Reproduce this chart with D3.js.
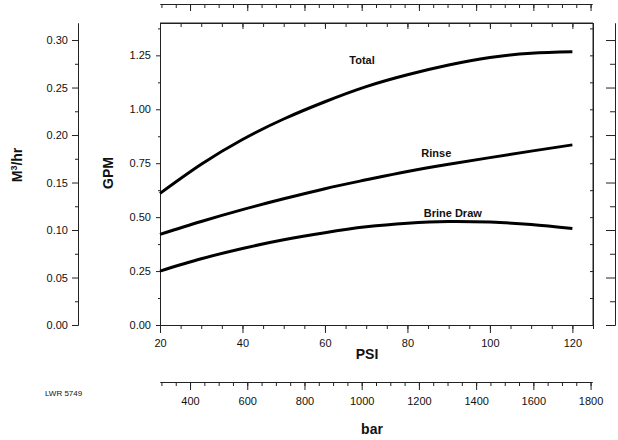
<!DOCTYPE html>
<html>
<head>
<meta charset="utf-8">
<script src="https://cdn.jsdelivr.net/npm/d3@7"></script>
<style>
  body { margin: 0; background: #fff; }
  text { font-family: "Liberation Sans", Arial, sans-serif; fill: #111; }
  .domain, .tick line { stroke: #222; }
</style>
</head>
<body>
<div id="viz"></div>
<script>
var width = 618, height = 440;

// data
var psi = [20, 30, 40, 50, 60, 70, 80, 90, 100, 110, 120];
var total = [0.61, 0.745, 0.86, 0.955, 1.035, 1.105, 1.16, 1.205, 1.24, 1.26, 1.267];
var rinse = [0.42, 0.48, 0.535, 0.585, 0.632, 0.673, 0.712, 0.745, 0.776, 0.806, 0.835];
var brine = [0.25, 0.307, 0.355, 0.395, 0.428, 0.455, 0.472, 0.48, 0.477, 0.466, 0.447];
var seriesNames = ["Total", "Rinse", "Brine Draw"];
var psiTicks = [20, 40, 60, 80, 100, 120];
var gpmTicks = [0, 0.25, 0.5, 0.75, 1.0, 1.25];
var m3Ticks = [0, 0.05, 0.1, 0.15, 0.2, 0.25, 0.3];
var barTicks = [400, 600, 800, 1000, 1200, 1400, 1600, 1800];

// plot box edges (window.top is reserved, so use other names)
var boxL = 160, boxR = 593, boxT = 23, boxB = 325;

var x = d3.scaleLinear().domain([20, 125]).range([boxL, boxR]);
var y = d3.scaleLinear().domain([0, 1.4]).range([boxB, boxT]);
var m3 = d3.scaleLinear().domain([0, 1.4 * 0.2271]).range([boxB, boxT]);
var bar = d3.scaleLinear().domain([295, 1805]).range([boxL, 592]);

var svg = d3.select("#viz").append("svg")
    .attr("width", width)
    .attr("height", height);

function clean(g) {
    g.selectAll("text").attr("font-size", 11);
    return g;
}

// plot box: bottom PSI axis, minor ticks first
svg.append("g")
    .attr("transform", "translate(0," + boxB + ")")
    .call(d3.axisBottom(x).tickValues(d3.range(20, 125.1, 5)).tickSize(4).tickFormat(""));
svg.append("g")
    .attr("transform", "translate(0," + boxB + ")")
    .call(d3.axisBottom(x).tickValues(psiTicks).tickSize(8).tickPadding(6).tickSizeOuter(0))
    .call(clean);

// top edge of box
svg.append("g")
    .attr("transform", "translate(0," + boxT + ")")
    .call(d3.axisBottom(x).tickValues(d3.range(25, 121, 5)).tickSize(4).tickFormat("").tickSizeOuter(0));
svg.append("g")
    .attr("transform", "translate(0," + boxT + ")")
    .call(d3.axisBottom(x).tickValues(psiTicks).tickSize(6).tickFormat("").tickSizeOuter(0));

// GPM left axis
svg.append("g")
    .attr("transform", "translate(" + boxL + ",0)")
    .call(d3.axisLeft(y).tickValues(d3.range(0.125, 1.4, 0.25)).tickSize(2).tickFormat("").tickSizeOuter(0));
svg.append("g")
    .attr("transform", "translate(" + boxL + ",0)")
    .call(d3.axisLeft(y).tickValues(gpmTicks).tickSize(4).tickPadding(5).tickFormat(d3.format(".2f")).tickSizeOuter(0))
    .call(clean);

// right edge of box
svg.append("g")
    .attr("transform", "translate(" + boxR + ",0)")
    .call(d3.axisLeft(y).tickValues(d3.range(0.125, 1.4, 0.125)).tickSize(3).tickFormat("").tickSizeOuter(0));

// M3/hr axis on the left
svg.append("g")
    .attr("transform", "translate(78,0)")
    .call(d3.axisLeft(m3).tickValues(d3.range(0.025, 0.31, 0.05)).tickSize(3).tickFormat("").tickSizeOuter(0));
svg.append("g")
    .attr("transform", "translate(78,0)")
    .call(d3.axisLeft(m3).tickValues(m3Ticks).tickSize(6).tickPadding(4).tickFormat(d3.format(".2f")).tickSizeOuter(0))
    .call(clean);

// M3/hr mirror on the right
svg.append("g")
    .attr("transform", "translate(615,0)")
    .call(d3.axisLeft(m3).tickValues(d3.range(0.025, 0.31, 0.05)).tickSize(5).tickFormat("").tickSizeOuter(0));
svg.append("g")
    .attr("transform", "translate(615,0)")
    .call(d3.axisLeft(m3).tickValues(m3Ticks).tickSize(9).tickFormat("").tickSizeOuter(0));

// bar axis below
svg.append("g")
    .attr("transform", "translate(0,382)")
    .call(d3.axisBottom(bar).tickValues(d3.range(300, 1801, 50)).tickSize(4).tickFormat("").tickSizeOuter(0));
svg.append("g")
    .attr("transform", "translate(0,382)")
    .call(d3.axisBottom(bar).tickValues(barTicks).tickSize(8).tickPadding(7).tickFormat(d3.format("d")).tickSizeOuter(0))
    .call(clean);

// bar mirror at the top
svg.append("g")
    .attr("transform", "translate(0,4)")
    .call(d3.axisBottom(bar).tickValues(d3.range(300, 1801, 50)).tickSize(4).tickFormat("").tickSizeOuter(0));
svg.append("g")
    .attr("transform", "translate(0,4)")
    .call(d3.axisBottom(bar).tickValues(barTicks).tickSize(7).tickFormat("").tickSizeOuter(0));

// close the box with plain edges
svg.append("line").attr("x1", boxR).attr("x2", boxR).attr("y1", boxT).attr("y2", boxB).attr("stroke", "#222");
svg.append("line").attr("x1", boxL).attr("x2", boxR).attr("y1", boxT).attr("y2", boxT).attr("stroke", "#222");

// curves
var line = d3.line()
    .x(function(d) { return x(d[0]); })
    .y(function(d) { return y(d[1]); })
    .curve(d3.curveNatural);

[total, rinse, brine].forEach(function(vals) {
    svg.append("path")
        .datum(psi.map(function(p, i) { return [p, vals[i]]; }))
        .attr("d", line)
        .attr("fill", "none")
        .attr("stroke", "#000")
        .attr("stroke-width", 3);
});

// series labels (PSI, GPM of label centre / baseline)
var labelPos = [[69, 1.21], [87, 0.778], [91, 0.5]];
seriesNames.forEach(function(name, i) {
    svg.append("text")
        .attr("x", x(labelPos[i][0]))
        .attr("y", y(labelPos[i][1]))
        .attr("text-anchor", "middle")
        .attr("font-size", 11)
        .attr("font-weight", "bold")
        .text(name);
});

// axis titles
svg.append("text").attr("x", 367).attr("y", 359).attr("text-anchor", "middle")
    .attr("font-size", 14).attr("font-weight", "bold").text("PSI");
svg.append("text").attr("x", 372).attr("y", 434).attr("text-anchor", "middle")
    .attr("font-size", 14).attr("font-weight", "bold").text("bar");
svg.append("text").attr("transform", "translate(113,173) rotate(-90)").attr("text-anchor", "middle")
    .attr("font-size", 14).attr("font-weight", "bold").text("GPM");
var mt = svg.append("text").attr("transform", "translate(22,165) rotate(-90)").attr("text-anchor", "middle")
    .attr("font-size", 14).attr("font-weight", "bold");
mt.append("tspan").text("M");
mt.append("tspan").attr("font-size", 9).attr("dy", -5).text("3");
mt.append("tspan").attr("dy", 5).text("/hr");

svg.append("text").attr("x", 45).attr("y", 396).attr("font-size", 8).text("LWR 5749");
</script>
</body>
</html>
